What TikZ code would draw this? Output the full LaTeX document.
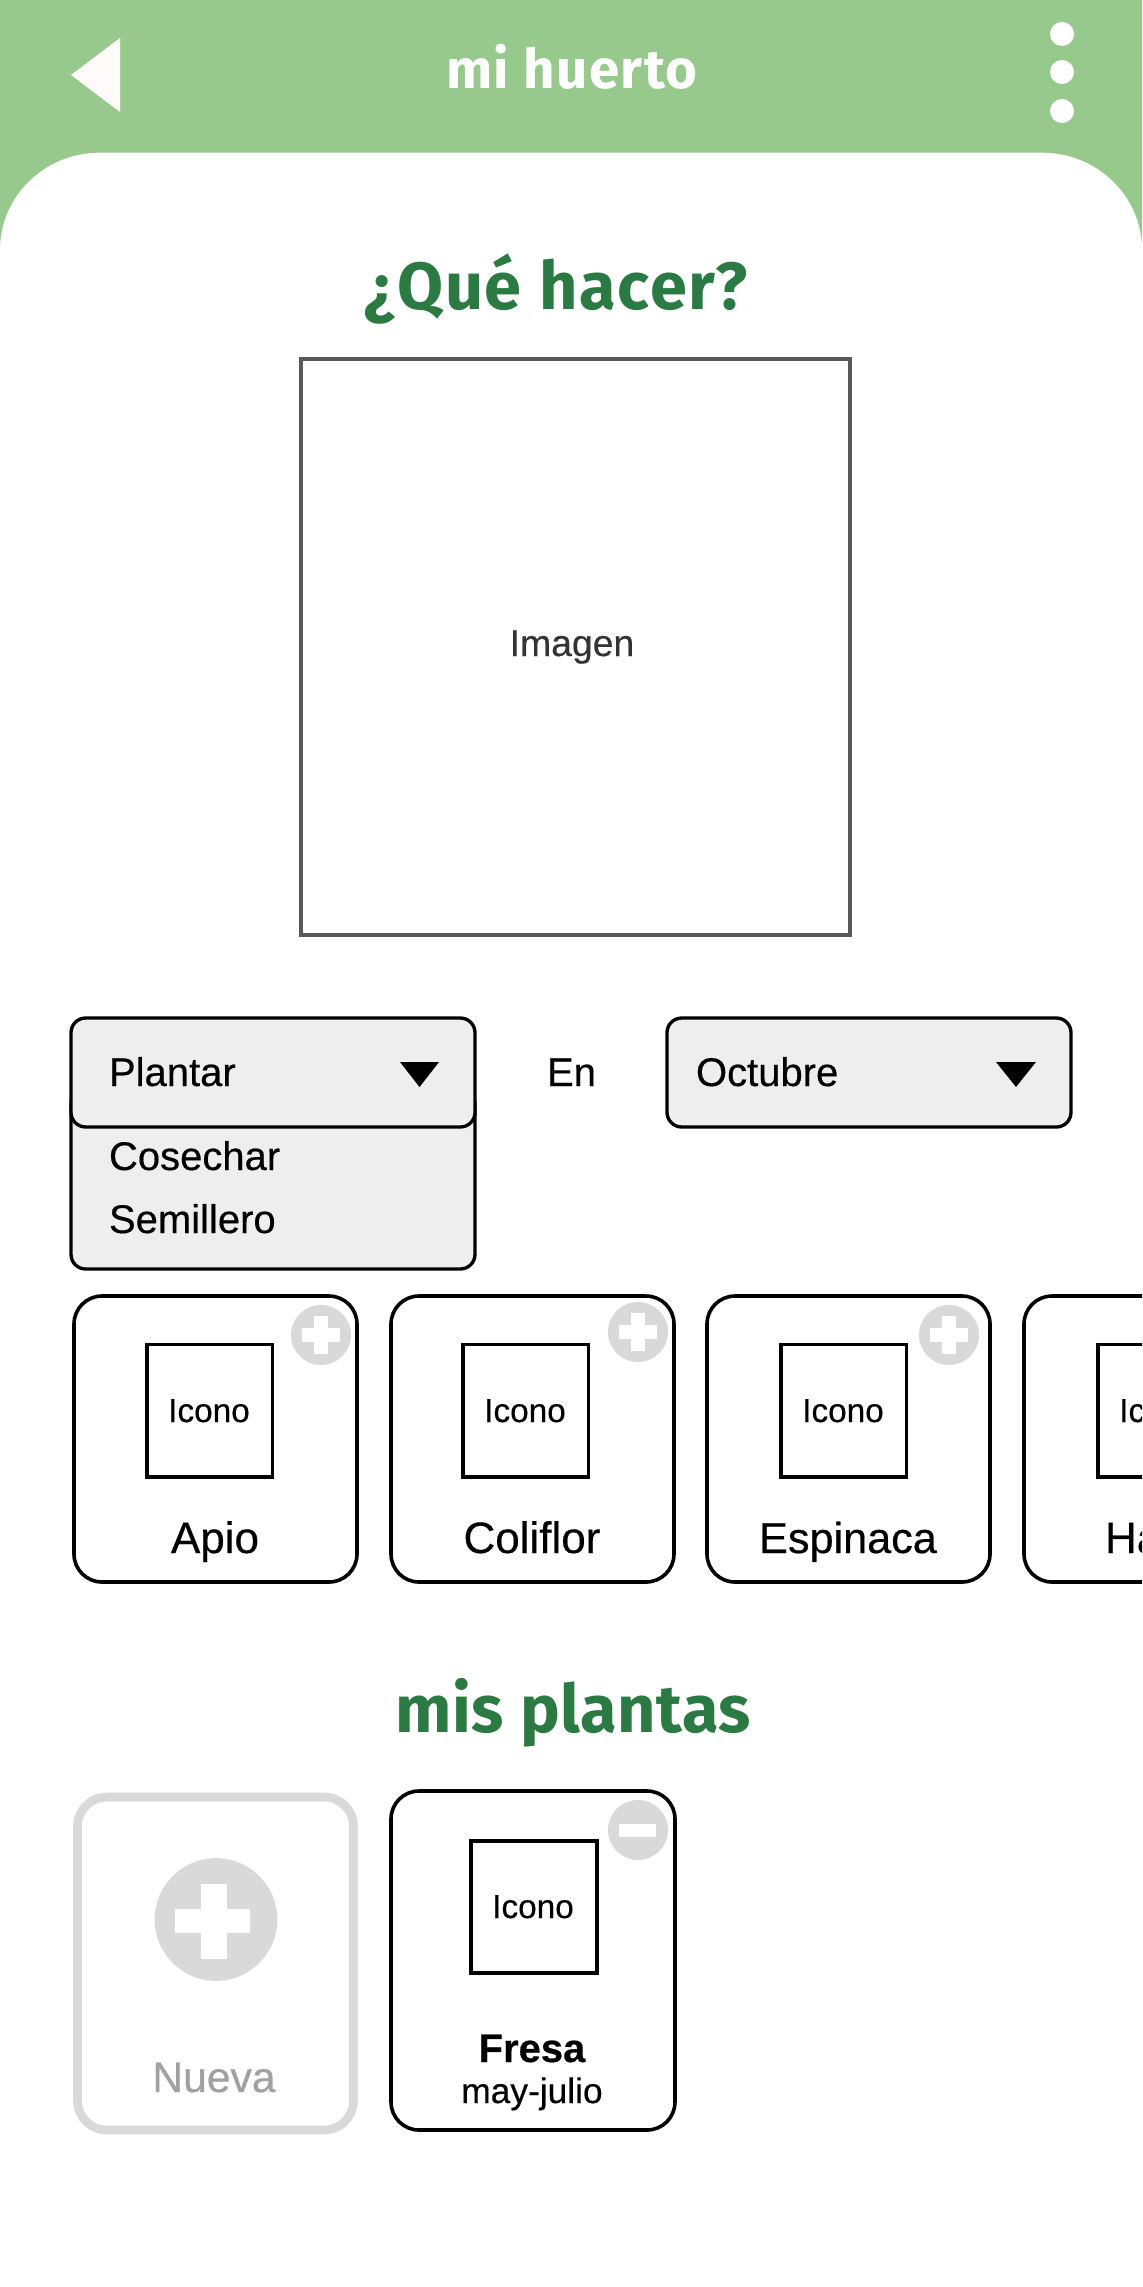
\documentclass[tikz,border=0pt]{standalone}
\usepackage{fontspec}
\setmainfont[FakeBold=0.4]{Liberation Sans}
\newfontfamily\headfont[LetterSpace=2.6]{Fira Sans}
\newfontfamily\headfontb[LetterSpace=0.8]{Fira Sans}
\definecolor{bargreen}{HTML}{97C98C}
\definecolor{headgreen}{HTML}{2B7A43}
\definecolor{softgrey}{HTML}{D9D9D9}
\definecolor{ddgrey}{HTML}{EEEEEE}
\definecolor{backwhite}{HTML}{FFFAFA}
\tikzset{
  txt/.style={inner sep=0pt,outer sep=0pt,anchor=base},
  txtl/.style={inner sep=0pt,outer sep=0pt,anchor=base west},
  fs/.style={font=\fontsize{#1}{#1}\selectfont},
  head/.style={txt,font=\headfont\bfseries\fontsize{#1}{#1}\selectfont},
  headb/.style={txt,font=\headfontb\bfseries\fontsize{#1}{#1}\selectfont},
  card/.style={draw=black,line width=2.7pt,fill=white,rounded corners=21pt},
  iconbox/.style={draw=black,line width=2.6pt,fill=white},
  ddbox/.style={draw=black,line width=2.5pt,fill=ddgrey,rounded corners=11pt},
  softdisc/.style={fill=softgrey},
}
\begin{document}
\begin{tikzpicture}[x=0.75pt,y=-0.75pt]
\useasboundingbox (0,0) rectangle (1142,2287);
\clip (0,0) rectangle (1142,2287);
\fill[white] (0,0) rectangle (1142,2287);
% header
\fill[bargreen] (0,0) rectangle (1142,260);
\fill[white] (0,250) arc[start angle=180,end angle=90,x radius=75pt,y radius=73pt]
  -- (1042,152.7) arc[start angle=90,end angle=0,x radius=75pt,y radius=73pt]
  -- (1142,300) -- (0,300) -- cycle;
\fill[backwhite] (120,38) -- (71,75) -- (120,112) -- cycle;
\foreach \yy in {34,72,111} \fill[white] (1062,\yy) circle[radius=9pt];
\node[head=41,white] (title) at (572,89) {mi huerto};
\node[head=50,headgreen] (qh) at (556,309) {¿Qué hacer?};
% image
\draw[draw=black!65,line width=3pt,fill=white] (300.5,359) rectangle (849.5,935);
\node[txt,fs=28,text=black!80] (imagen) at (572,656) {Imagen};
% dropdowns
\draw[ddbox] (71,1090) rectangle (475,1269);
\draw[ddbox] (71,1018) rectangle (475,1127);
\draw[ddbox] (667,1018) rectangle (1071,1127);
\fill (400,1062) -- (439,1062) -- (419.5,1087) -- cycle;
\fill (996,1062) -- (1036,1062) -- (1016,1087) -- cycle;
\node[txtl,fs=30] (plantar) at (109,1086) {Plantar};
\node[txt,fs=30] (en) at (571.5,1086) {En};
\node[txtl,fs=30] (octubre) at (696,1086) {Octubre};
\node[txtl,fs=30] (cosechar) at (109,1170) {Cosechar};
\node[txtl,fs=30] (semillero) at (109,1233) {Semillero};
% cards
\foreach \cx/\bx/\dx/\dy/\nm/\tx in {74/147/321/1335/a/215,391/463/638/1332/b/532,707/781/949/1335/c/848}{
  \draw[card] (\cx,1296) rectangle ++(283,286);
  \draw[iconbox] (\bx,1344.5) rectangle ++(125.5,132.5);
  \fill[softdisc] (\dx,\dy) circle[radius=22.5pt];
  \fill[white] ({\dx-19},{\dy-7}) rectangle ({\dx+19},{\dy+7});
  \fill[white] ({\dx-7},{\dy-19}) rectangle ({\dx+7},{\dy+19});
  \node[txt,fs=25] (icono\nm) at ({\bx+62},1422) {Icono};
}
\draw[card] (1024,1296) rectangle ++(283,286);
\draw[iconbox] (1098,1344.5) rectangle ++(125.5,132.5);
\node[txt,fs=25] (iconod) at (1160,1422) {Icono};
\node[txt,fs=33] (apio) at (215,1553) {Apio};
\node[txt,fs=33] (coliflor) at (532,1553) {Coliflor};
\node[txt,fs=32.4] (espinaca) at (848,1553) {Espinaca};
\node[txtl,fs=33] (ha) at (1105,1553) {Ha};
% mis plantas
\node[headb=50,headgreen] (mp) at (573,1732) {mis plantas};
\draw[draw=softgrey,line width=6.5pt,rounded corners=22pt] (77.5,1797) rectangle (353.5,2130);
\fill[softdisc] (216,1919.5) circle[radius=46pt];
\fill[white] (175,1909) rectangle (250,1933);
\fill[white] (201,1884) rectangle (227,1959);
\node[txt,fs=32,text=black!37] (nueva) at (214,2092) {Nueva};
\draw[card] (391,1791) rectangle (675,2130);
\draw[iconbox] (471,1841) rectangle (597,1973);
\fill[softdisc] (638,1830) circle[radius=22.5pt];
\fill[white] (619,1824) rectangle (656,1837);
\node[txt,fs=25] (iconof) at (533,1918) {Icono};
\node[txt,font=\bfseries\fontsize{30}{30}\selectfont] (fresa) at (532,2062) {Fresa};
\node[txt,fs=26.5] (mayo) at (532,2103) {may-julio};
\end{tikzpicture}
\end{document}
